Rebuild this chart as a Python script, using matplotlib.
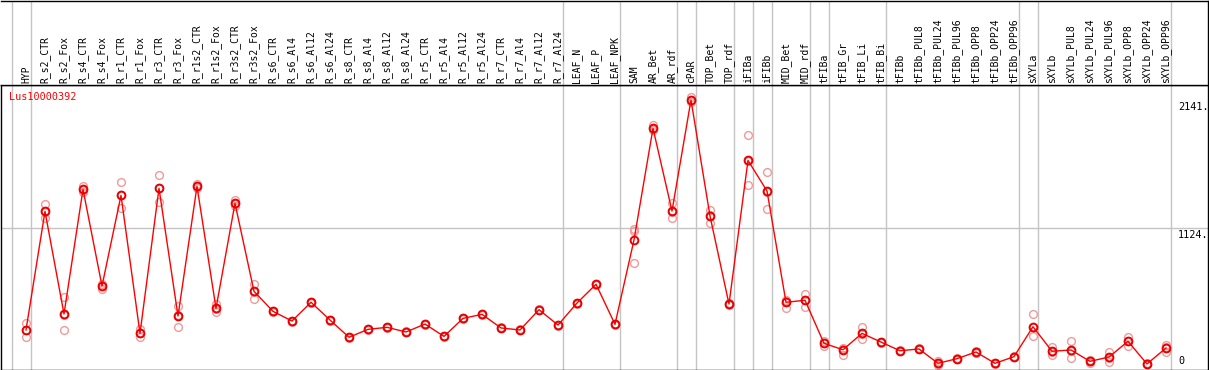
import matplotlib
matplotlib.use('Agg')
import matplotlib.pyplot as plt
import matplotlib.transforms as mtransforms

# sample names (columns, left to right)
samples = ['HYP', 'R_s2_CTR', 'R_s2_Fox', 'R_s4_CTR', 'R_s4_Fox', 'R_r1_CTR', 'R_r1_Fox',
           'R_r3_CTR', 'R_r3_Fox', 'R_r1s2_CTR', 'R_r1s2_Fox', 'R_r3s2_CTR', 'R_r3s2_Fox',
           'R_s6_CTR', 'R_s6_Al4', 'R_s6_Al12', 'R_s6_Al24', 'R_s8_CTR', 'R_s8_Al4',
           'R_s8_Al12', 'R_s8_Al24', 'R_r5_CTR', 'R_r5_Al4', 'R_r5_Al12', 'R_r5_Al24',
           'R_r7_CTR', 'R_r7_Al4', 'R_r7_Al12', 'R_r7_Al24', 'LEAF_N', 'LEAF_P', 'LEAF_NPK',
           'SAM', 'AR_Bet', 'AR_rdf', 'cPAR', 'TOP_Bet', 'TOP_rdf', 'iFIBa', 'iFIBb',
           'MID_Bet', 'MID_rdf', 'tFIBa', 'tFIB_Gr', 'tFIB_Li', 'tFIB_Bi', 'tFIBb',
           'tFIBb_PUL8', 'tFIBb_PUL24', 'tFIBb_PUL96', 'tFIBb_OPP8', 'tFIBb_OPP24',
           'tFIBb_OPP96', 'sXYLa', 'sXYLb', 'sXYLb_PUL8', 'sXYLb_PUL24', 'sXYLb_PUL96',
           'sXYLb_OPP8', 'sXYLb_OPP24', 'sXYLb_OPP96']

# mean expression per sample
mean_expr = [314, 1256, 441, 1431, 663, 1383, 287, 1439, 425, 1455, 486, 1320, 621,
             462, 385, 534, 393, 256, 319, 335, 298, 361, 263, 406, 438, 330, 314, 475, 353,
             528, 677, 359,
             1029, 1916, 1259, 2141, 1219, 520, 1661, 1418, 534, 550,
             208, 157, 287, 218, 149, 163, 49, 86, 139, 49, 102,
             340, 145, 155, 65, 99, 224, 44, 171]

# replicate values
rep_a = [367, 1315, 573, 1460, 683, 1487, 319, 1545, 504, 1470, 520, 1346, 682,
         466, 389, 538, 397, 260, 323, 339, 302, 365, 267, 410, 442, 334, 318, 479, 357,
         532, 681, 363,
         1120, 1945, 1325, 2162, 1267, 525, 1863, 1569, 552, 600,
         229, 173, 338, 222, 153, 167, 70, 90, 150, 53, 106,
         441, 181, 224, 75, 139, 261, 48, 195]
rep_b = [310, 1250, 436, 1425, 665, 1383, 287, 1439, 430, 1455, 480, 1316, 618,
         462, 385, 534, 393, 256, 319, 335, 298, 361, 263, 406, 438, 330, 314, 475, 353,
         528, 677, 359,
         1100, 1910, 1255, 2140, 1225, 520, 1660, 1410, 545, 555,
         210, 160, 280, 218, 149, 163, 45, 86, 139, 49, 102,
         340, 140, 150, 65, 95, 224, 44, 175]
rep_c = [261, 1203, 314, 1410, 637, 1280, 256, 1333, 340, 1440, 459, 1298, 563,
         458, 381, 530, 389, 252, 315, 331, 294, 357, 259, 402, 434, 326, 310, 471, 349,
         524, 673, 355,
         846, 1900, 1201, 2125, 1161, 515, 1463, 1275, 488, 494,
         187, 115, 242, 214, 145, 159, 33, 82, 128, 45, 98,
         268, 113, 91, 50, 62, 187, 40, 141]

# last sample index of each group (separators drawn after these)
group_ends = [-1, 0, 28, 31, 34, 35, 37, 38, 39, 41, 42, 45, 52, 53, 60]

gene = 'Lus10000392'
ytick_vals = [2141, 1124, 0]
ytick_text = ['2141.', '1124.', '0']

W, H = 1209, 370
fig = plt.figure(figsize=(W / 100, H / 100), dpi=100)
mono = 'DejaVu Sans Mono'

x = list(range(len(samples)))
xlim = ((1 - 26) / 19, (1208 - 26) / 19)

ax = fig.add_axes([1 / W, 0.5 / H, 1207 / W, 284.5 / H])
ax_lab = fig.add_axes([1 / W, 285 / H, 1207 / W, 84.5 / H], sharex=ax)

grey = '#c4c4c4'
for a in (ax, ax_lab):
    for g in group_ends:
        a.axvline(g + 0.24, color=grey, lw=1.0, zorder=0)
    a.set_xticks([])
    a.set_yticks([])
    for s in a.spines.values():
        s.set_color('black')
        s.set_linewidth(1.0)
ax_lab.spines['left'].set_visible(False)
ax_lab.set_ylim(0, 1)
ax.set_xlim(*xlim)
ax.set_ylim(0, 2260)
ax.axhline(1124, color=grey, lw=1.0, zorder=0)

# replicates
for reps in (rep_a, rep_b, rep_c):
    ax.plot(x, reps, ls='none', marker='o', ms=5.6, mfc='none', mec='#f09a9a',
            mew=1.0, zorder=2, clip_on=False)
# mean profile
ax.plot(x, mean_expr, color='#ff0000', lw=1.0, marker='o', ms=5.6, mfc='none',
        mec='#e80000', mew=1.4, zorder=3, clip_on=False)

# sample labels
trans = mtransforms.blended_transform_factory(ax_lab.transData, ax_lab.transAxes)
for i, name in enumerate(samples):
    ax_lab.text(i, 0.025, name, rotation=90, ha='center', va='bottom',
                family=mono, fontsize=7, transform=trans)

ax.text(8 / 1207, 0.958, gene, color='#ff0000', family=mono, fontsize=7.3,
        va='center', ha='left', transform=ax.transAxes)

# value labels on the right
tx = (1178 - 26) / 19
for v, t in zip(ytick_vals, ytick_text):
    if v == 0:
        ax.text(tx, 25, t, family=mono, fontsize=7.3, va='bottom', ha='left')
    else:
        ax.text(tx, v - 15, t, family=mono, fontsize=7.3, va='top', ha='left')

fig.savefig('out.png', dpi=100)
